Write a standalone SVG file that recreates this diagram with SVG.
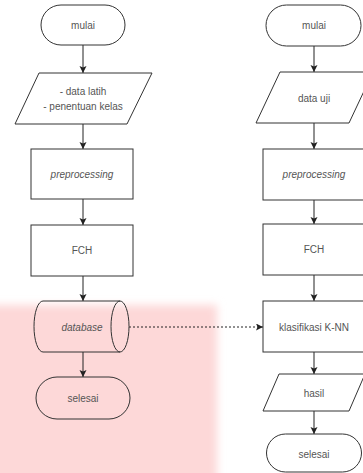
<svg xmlns="http://www.w3.org/2000/svg" width="363" height="473" viewBox="0 0 363 473">
<style>
.shape{fill:none;stroke:#333;stroke-width:1}
.t{font-family:"Liberation Sans",Arial,sans-serif;font-size:10px;fill:#555;text-anchor:middle;dominant-baseline:central}
.i{font-style:italic}
.c{stroke:#222;stroke-width:1;fill:none}
.d{stroke-dasharray:2 2}
</style>
<defs>
<marker id="arr" markerUnits="userSpaceOnUse" markerWidth="8" markerHeight="8" refX="7" refY="3.5" orient="auto">
<path d="M0,0 L7,3.5 L0,7 L1.5,3.5 z" fill="#222"/>
</marker>
<filter id="soft" x="-20%" y="-20%" width="140%" height="140%">
<feGaussianBlur stdDeviation="4"/>
</filter>
</defs>
<rect width="363" height="473" fill="#fff"/>
<rect x="-20" y="305" width="237" height="200" fill="#fdd8d8" filter="url(#soft)"/>

<g id="connectors">
<line class="c" x1="83" y1="45" x2="83" y2="73" marker-end="url(#arr)"/>
<line class="c" x1="83" y1="124" x2="83" y2="149" marker-end="url(#arr)"/>
<line class="c" x1="83" y1="199" x2="83" y2="225" marker-end="url(#arr)"/>
<line class="c" x1="83" y1="276" x2="83" y2="301" marker-end="url(#arr)"/>
<line class="c" x1="83" y1="352" x2="83" y2="377" marker-end="url(#arr)"/>
<line class="c d" x1="129" y1="327" x2="263" y2="327" marker-end="url(#arr)"/>
<line class="c" x1="314" y1="46" x2="314" y2="72" marker-end="url(#arr)"/>
<line class="c" x1="314" y1="123" x2="314" y2="149" marker-end="url(#arr)"/>
<line class="c" x1="314" y1="200" x2="314" y2="224" marker-end="url(#arr)"/>
<line class="c" x1="314" y1="275" x2="314" y2="301" marker-end="url(#arr)"/>
<line class="c" x1="314" y1="352" x2="314" y2="374" marker-end="url(#arr)"/>
<line class="c" x1="314" y1="411" x2="314" y2="434" marker-end="url(#arr)"/>
</g>

<g id="mulai-left">
<rect class="shape" x="41" y="5" width="84" height="40" rx="20" ry="20"/>
<text class="t" x="83" y="25">mulai</text>
</g>
<g id="data-latih">
<polygon class="shape" points="39,73 152,73 127,124 15,124"/>
<text class="t" x="83" y="91">- data latih</text>
<text class="t" x="83" y="106">- penentuan kelas</text>
</g>
<g id="preprocessing-left">
<rect class="shape" x="31" y="149" width="102" height="50"/>
<text class="t i" x="82" y="174">preprocessing</text>
</g>
<g id="fch-left">
<rect class="shape" x="31" y="225" width="102" height="51"/>
<text class="t" x="82" y="250.5">FCH</text>
</g>
<g id="database">
<path class="shape" d="M43,301 L120,301 M43,352 L120,352 M43,301 A9,25.5 0 0 0 43,352"/>
<ellipse class="shape" cx="120" cy="326.5" rx="9" ry="25.5"/>
<text class="t i" x="82" y="327">database</text>
</g>
<g id="selesai-left">
<rect class="shape" x="36" y="377" width="94" height="42" rx="21" ry="21"/>
<text class="t" x="83" y="398">selesai</text>
</g>

<g id="mulai-right">
<rect class="shape" x="266" y="5" width="95" height="41" rx="20.5" ry="20.5"/>
<text class="t" x="314" y="25.5">mulai</text>
</g>
<g id="data-uji">
<polygon class="shape" points="280,72 373,72 349,123 256,123"/>
<text class="t" x="314" y="98">data uji</text>
</g>
<g id="preprocessing-right">
<rect class="shape" x="263" y="149" width="102" height="51"/>
<text class="t i" x="314" y="174.5">preprocessing</text>
</g>
<g id="fch-right">
<rect class="shape" x="263" y="224" width="102" height="51"/>
<text class="t" x="314" y="249.5">FCH</text>
</g>
<g id="klasifikasi">
<rect class="shape" x="263" y="301" width="102" height="51"/>
<text class="t" x="314" y="327">klasifikasi K-NN</text>
</g>
<g id="hasil">
<polygon class="shape" points="279,374 365,374 349,411 263,411"/>
<text class="t" x="314" y="393">hasil</text>
</g>
<g id="selesai-right">
<rect class="shape" x="266.5" y="434" width="95" height="38" rx="19" ry="19"/>
<text class="t" x="314" y="454">selesai</text>
</g>
</svg>
